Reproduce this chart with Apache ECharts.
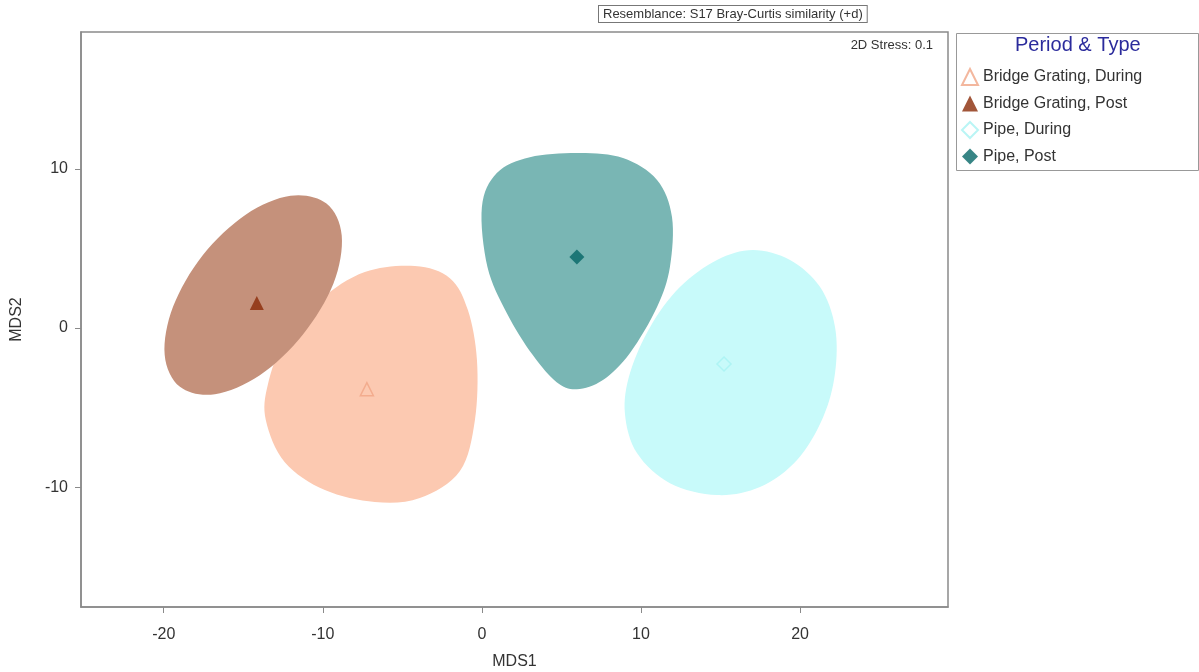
<!DOCTYPE html>
<html>
<head>
<meta charset="utf-8">
<script src="https://cdn.jsdelivr.net/npm/echarts@6/dist/echarts.min.js"></script>
<style>
  html, body { margin: 0; padding: 0; background: #fff; }
  #chart { width: 1199px; height: 672px; }
</style>
</head>
<body>
<div id="chart"></div>
<script>
// nMDS ordination: group centroids and smoothed group envelopes (MDS1, MDS2)
const groupNames = ['Bridge Grating, During', 'Bridge Grating, Post', 'Pipe, During', 'Pipe, Post'];

const centroidBGDuring = [[-7.23, -3.84]];
const centroidBGPost   = [[-14.15, 1.57]];
const centroidPDuring  = [[15.22, -2.26]];
const centroidPPost    = [[5.97, 4.47]];

// envelope outlines, [MDS1, MDS2]
const outlineBGDuring = [
  [-4.21, 3.90], [-2.01, 3.14], [-0.88, 1.13], [-0.31, -2.01], [-0.44, -5.79],
  [-1.38, -8.99], [-3.90, -10.69], [-6.73, -10.94], [-9.87, -10.19], [-12.39, -8.43],
  [-13.58, -5.79], [-13.46, -3.58], [-12.39, -0.75], [-10.19, 1.76], [-7.36, 3.52]
];
const outlineBGPost = [
  [-9.77, 7.83], [-8.81, 5.82], [-9.33, 2.80], [-11.26, -0.42], [-13.96, -2.97],
  [-16.78, -4.16], [-18.98, -3.69], [-19.94, -1.67], [-19.41, 1.35], [-17.56, 4.57],
  [-14.85, 7.13], [-12.03, 8.32]
];
const outlinePDuring = [
  [17.04, 4.91], [19.37, 4.28], [21.26, 2.58], [22.20, 0.06], [22.20, -2.83],
  [21.45, -5.60], [19.81, -8.30], [17.48, -10.00], [14.78, -10.50], [11.82, -9.75],
  [9.75, -7.86], [8.99, -5.35], [9.31, -2.83], [10.57, 0.06], [12.45, 2.58], [14.78, 4.28]
];
const outlinePPost = [
  [6.16, 11.01], [8.87, 10.69], [11.01, 9.31], [11.95, 6.98], [11.82, 3.84],
  [11.01, 1.32], [9.31, -1.57], [7.61, -3.27], [5.97, -3.85], [4.70, -3.40],
  [3.20, -1.70], [1.57, 0.94], [0.35, 3.84], [0.00, 7.61], [0.94, 9.75], [3.02, 10.75]
];

const xTicks = [-20, -10, 0, 10, 20];
const yTicks = [-10, 0, 10];

const AXIS_FONT = 'Liberation Sans, Arial, sans-serif';

// closed Catmull-Rom curve through pixel points, as SVG path data
function closedSplinePath(pts) {
  const n = pts.length;
  let d = 'M' + pts[0][0] + ' ' + pts[0][1];
  for (let i = 0; i < n; i++) {
    const p0 = pts[(i - 1 + n) % n], p1 = pts[i], p2 = pts[(i + 1) % n], p3 = pts[(i + 2) % n];
    const c1x = p1[0] + (p2[0] - p0[0]) / 6, c1y = p1[1] + (p2[1] - p0[1]) / 6;
    const c2x = p2[0] - (p3[0] - p1[0]) / 6, c2y = p2[1] - (p3[1] - p1[1]) / 6;
    d += ' C' + c1x + ' ' + c1y + ' ' + c2x + ' ' + c2y + ' ' + p2[0] + ' ' + p2[1];
  }
  return d + ' Z';
}

function envelope(name, outline, fill) {
  return {
    type: 'custom',
    name: name + ' envelope',
    coordinateSystem: 'cartesian2d',
    silent: true,
    data: outline,
    encode: { x: 0, y: 1 },
    renderItem: function (params, api) {
      if (params.dataIndex !== 0) return null;
      const pts = outline.map(p => api.coord(p));
      return {
        type: 'path',
        shape: { pathData: closedSplinePath(pts) },
        style: { fill: fill, stroke: null }
      };
    },
    z: 1
  };
}

const chart = echarts.init(document.getElementById('chart'), null, { renderer: 'canvas' });

chart.setOption({
  animation: false,
  backgroundColor: '#ffffff',
  textStyle: { fontFamily: AXIS_FONT },
  grid: {
    left: 81, top: 32, right: 251, bottom: 65,
    outerBoundsMode: 'none', containLabel: false,
    show: true, borderColor: '#8a8a8a', borderWidth: 1.5, backgroundColor: '#fff'
  },
  xAxis: {
    type: 'value', min: -25.2, max: 29.3,
    name: 'MDS1', nameLocation: 'middle', nameGap: 47,
    nameTextStyle: { fontSize: 16, color: '#333', fontFamily: AXIS_FONT },
    splitLine: { show: false },
    axisLine: { show: true, onZero: false, lineStyle: { color: '#8a8a8a', width: 1.5 } },
    axisTick: { show: true, length: 6, lineStyle: { color: '#8a8a8a' }, customValues: xTicks },
    axisLabel: { fontSize: 16, color: '#333', margin: 20, customValues: xTicks, fontFamily: AXIS_FONT }
  },
  yAxis: {
    type: 'value', min: -17.54, max: 18.62,
    name: 'MDS2', nameLocation: 'middle', nameGap: 56, nameRotate: 90,
    nameTextStyle: { fontSize: 16, color: '#333', fontFamily: AXIS_FONT },
    splitLine: { show: false },
    axisLine: { show: true, onZero: false, lineStyle: { color: '#8a8a8a', width: 1.5 } },
    axisTick: { show: true, length: 6, lineStyle: { color: '#8a8a8a' }, customValues: yTicks },
    axisLabel: { fontSize: 16, color: '#333', margin: 13, customValues: yTicks, fontFamily: AXIS_FONT }
  },
  legend: {
    data: groupNames,
    orient: 'vertical',
    left: 956, top: 63,
    itemWidth: 16, itemHeight: 16, itemGap: 9.5,
    textStyle: { fontSize: 16, color: '#333', fontFamily: AXIS_FONT },
    selectedMode: false
  },
  graphic: [
    {
      type: 'rect', left: 954, top: 31, silent: true,
      shape: { width: 242, height: 137 },
      style: { fill: 'none', stroke: '#999', lineWidth: 1 }
    },
    {
      type: 'text', left: 1015, top: 35, silent: true,
      style: { text: 'Period & Type', fill: '#2b2b9c', font: '20px ' + AXIS_FONT }
    },
    {
      type: 'text', left: 598, top: 5, silent: true,
      style: {
        text: 'Resemblance: S17 Bray-Curtis similarity (+d)',
        fill: '#333', font: '13px ' + AXIS_FONT,
        borderColor: '#777', borderWidth: 1, padding: [2, 4, 1, 4], backgroundColor: '#fff'
      }
    },
    {
      type: 'text', right: 266, top: 39, silent: true,
      style: { text: '2D Stress: 0.1', fill: '#333', font: '13px ' + AXIS_FONT }
    }
  ],
  series: [
    envelope('Bridge Grating, During', outlineBGDuring, '#fcc9b1'),
    envelope('Bridge Grating, Post', outlineBGPost, '#c5917b'),
    envelope('Pipe, Post', outlinePPost, '#79b6b4'),
    envelope('Pipe, During', outlinePDuring, '#c8fafa'),
    {
      type: 'scatter', name: 'Bridge Grating, During', data: centroidBGDuring,
      symbol: 'triangle', symbolSize: 13, z: 5,
      itemStyle: { color: 'rgba(0,0,0,0)', borderColor: '#f0a586', borderWidth: 1.5 }
    },
    {
      type: 'scatter', name: 'Bridge Grating, Post', data: centroidBGPost,
      symbol: 'triangle', symbolSize: 14, z: 5,
      itemStyle: { color: '#8a2a08' }
    },
    {
      type: 'scatter', name: 'Pipe, During', data: centroidPDuring,
      symbol: 'diamond', symbolSize: 14, z: 5,
      itemStyle: { color: 'rgba(0,0,0,0)', borderColor: '#a8f2f2', borderWidth: 1.5 }
    },
    {
      type: 'scatter', name: 'Pipe, Post', data: centroidPPost,
      symbol: 'diamond', symbolSize: 15, z: 5,
      itemStyle: { color: '#056766' }
    }
  ]
});
</script>
</body>
</html>
